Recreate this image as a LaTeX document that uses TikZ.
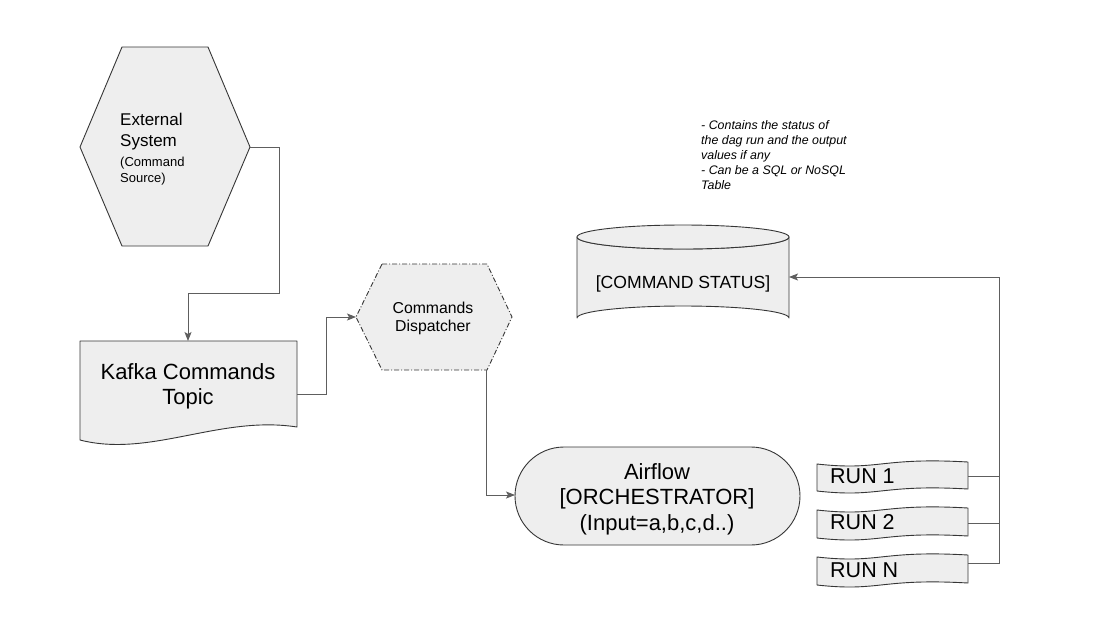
\documentclass[tikz,border=0pt]{standalone}
\usepackage{fontspec}
\setmainfont{Liberation Sans}
\usetikzlibrary{arrows.meta}
\definecolor{shfill}{HTML}{EEEEEE}
\definecolor{shline}{HTML}{363636}
\definecolor{conn}{HTML}{5E5E5E}
\newcommand{\fs}[2]{\fontsize{#1}{#2}\selectfont}
\begin{document}
\begin{tikzpicture}[x=1pt,y=-1pt,
  blk/.style={draw=shline,fill=shfill,line width=0.9pt,line join=round},
  wire/.style={draw=conn,line width=0.9pt},
  arr/.style={wire,-{Stealth[length=9pt,width=7pt,inset=2pt]}},
  txt/.style={inner sep=0pt,text=black}]
\useasboundingbox (0,0) rectangle (1102,622);
\fill[white] (0,0) rectangle (1102,622);

% External System hexagon
\draw[blk] (122,47) -- (208,47) -- (250,147) -- (208,246) -- (122,246) -- (80,147) -- cycle;
\coordinate (ext-e) at (250,147);
\node[txt,anchor=west,align=left,font=\fs{17}{21}] (ext) at (120,149.5) {External\\System\\[-1pt]{\fs{13}{16}(Command}\\[-5pt]{\fs{13}{16}Source)}};

% Kafka document
\draw[blk] (80,341) -- (297,341) -- (297,427) .. controls (220,415) and (150,458) .. (80,440) -- cycle;
\coordinate (kafka-n) at (188,341);
\coordinate (kafka-e) at (297,394);
\node[txt,align=center,font=\fs{22}{25}] (kafka) at (188,386) {Kafka Commands\\Topic};

% Commands Dispatcher hexagon
\draw[blk,dash pattern=on 5pt off 2pt on 1pt off 2pt] (382,264) -- (487,264) -- (512,317) -- (487,370) -- (382,370) -- (356,317) -- cycle;
\coordinate (disp-w) at (356,317);
\coordinate (disp-s) at (486,370);
\node[txt,align=center,font=\fs{15.8}{18}] (disp) at (433,318) {Commands\\Dispatcher};

% Command status cylinder
\draw[blk] (577,237) -- (577,318) arc[start angle=180,end angle=360,x radius=106,y radius=12] -- (789,237) arc[start angle=0,end angle=180,x radius=106,y radius=12] -- cycle;
\draw[blk] (683,237) ellipse[x radius=106,y radius=12];
\coordinate (cyl-e) at (789,277);
\node[txt,font=\fs{17.6}{20}] (cyl) at (683,284) {[COMMAND STATUS]};

% note
\node[txt,anchor=north west,align=left,font=\fs{12.4}{15}\itshape] (note) at (701,120.5) {- Contains the status of\\the dag run and the output\\values if any\\- Can be a SQL or NoSQL\\Table};

% Airflow terminator
\draw[blk,rounded corners=49pt] (515,447) rectangle (800,545);
\coordinate (air-w) at (515,495);
\node[txt,align=center,font=\fs{22}{25.5}] (air) at (657,499) {Airflow\\{}[ORCHESTRATOR]\\(Input=a,b,c,d..)};

% RUN tapes
\foreach \t/\b/\nm/\lab/\cy in {462/489/run1/RUN 1/476, 508/536/run2/RUN 2/522, 555/583/runn/RUN N/570}{
  \draw[blk] (817,\t+2) .. controls (880,\t+9) and (880,\t-5) .. (968,\t)
     -- (968,\b) .. controls (880,\b-5) and (880,\b+9) .. (817,\b+2) -- cycle;
  \node[txt,anchor=west,font=\fs{21.5}{24}] (\nm) at (830,\cy) {\lab};
}
\coordinate (run1-e) at (968,476);
\coordinate (run2-e) at (968,523);
\coordinate (runn-e) at (968,563);
\coordinate (bus-top) at (999,277);

% connectors
\draw[arr] (ext-e) -| (279,293) -| (kafka-n);
\draw[arr] (kafka-e) -| (326,317) -- (disp-w);
\draw[arr] (disp-s) |- (air-w);
\draw[wire] (run1-e) -- (999,476);
\draw[wire] (run2-e) -- (999,523);
\draw[arr] (runn-e) -| (bus-top) -- (cyl-e);
\end{tikzpicture}
\end{document}
